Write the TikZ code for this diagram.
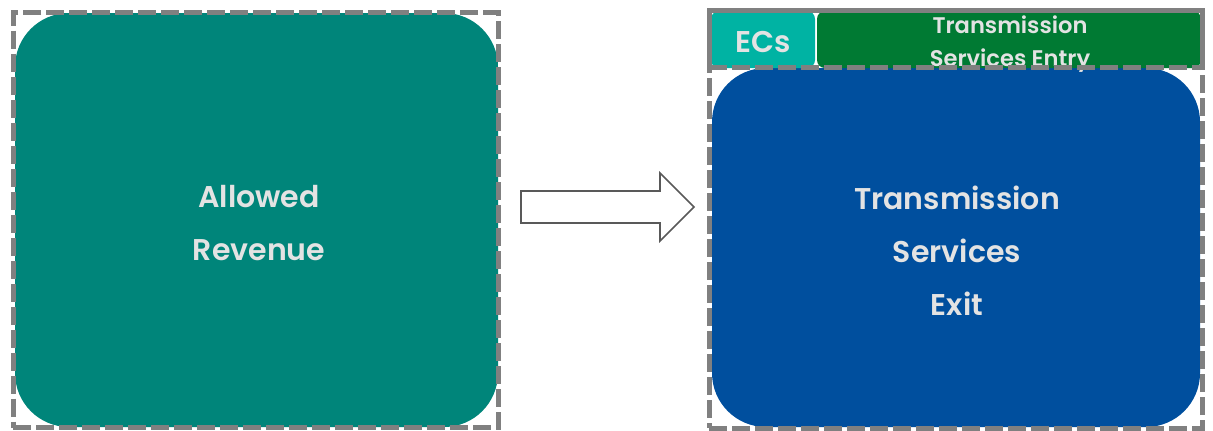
\documentclass[tikz,border=0pt]{standalone}
\usepackage{fontspec}
\setmainfont{Poppins}[BoldFont={Poppins SemiBold}]
\usepackage{tikz}

\definecolor{tealbox}{HTML}{00857A}
\definecolor{ecbox}{HTML}{00B3A3}
\definecolor{entrybox}{HTML}{007A33}
\definecolor{exitbox}{HTML}{004F9E}
\definecolor{labeltext}{HTML}{E3E3E3}
\definecolor{framegray}{HTML}{808080}
\definecolor{arrowgray}{HTML}{595959}

\begin{document}
\begin{tikzpicture}[x=0.5pt,y=-0.5pt,
  box/.style={rectangle,rounded corners=27pt,inner sep=0pt},
  smallbox/.style={box,rounded corners=4pt},
  boxlabel/.style={inner sep=0pt,align=center,text=labeltext,
    font=\bfseries\fontsize{15}{26.5}\selectfont},
  frame/.style={rectangle,draw=framegray,line width=2.5pt,
    dash pattern=on 9pt off 2.5pt,inner sep=0pt}]
\useasboundingbox (0,0) rectangle (1213,430);
% revenue side
\node (revenue) [box,fill=tealbox,minimum width=241.5pt,minimum height=207pt] at (256.5,220) {};
\node (revenuelabel) [boxlabel] at (259,223) {Allowed\\Revenue};
\node (revenueframe) [frame,minimum width=242.5pt,minimum height=207.5pt] at (255.5,220) {};
% arrow
\draw [arrowgray,line width=0.8pt,fill=white] (521,191) -- (660,191) -- (660,173)
  -- (694,207) -- (660,241) -- (660,223) -- (521,223) -- cycle;
% transmission side
\node (exit) [box,fill=exitbox,minimum width=244pt,minimum height=179.5pt] at (956,247.5) {};
\node (exitlabel) [boxlabel] at (957,251) {Transmission\\Services\\Exit};
\node (ecs) [smallbox,fill=ecbox,minimum width=52pt,minimum height=28.5pt] at (763,39.5) {};
\node (ecslabel) [boxlabel,font=\bfseries\fontsize{15}{16}\selectfont] at (763,42) {ECs};
\node (entry) [smallbox,fill=entrybox,minimum width=192pt,minimum height=28.5pt] at (1009,39.5) {};
\node (entrylabel) [boxlabel,font=\bfseries\fontsize{11.3}{16.5}\selectfont] at (1010,44) {Transmission\\Services Entry};
\node (entryframe) [frame,minimum width=246.5pt,minimum height=28.5pt] at (955.5,38.5) {};
\node (exitframe) [frame,minimum width=246.5pt,minimum height=209pt] at (955.5,219) {};
\end{tikzpicture}
\end{document}
